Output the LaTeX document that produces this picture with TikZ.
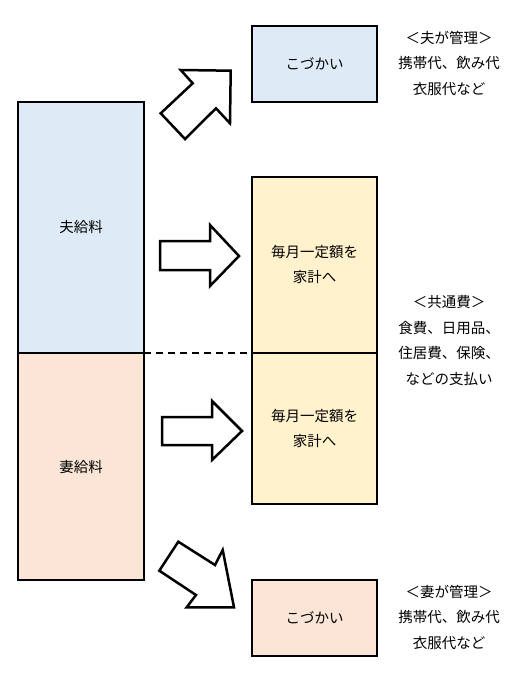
\documentclass[tikz,border=0pt]{standalone}
\usepackage{fontspec}
\setmainfont{Noto Sans CJK JP}
\usetikzlibrary{positioning}
\definecolor{husbandblue}{HTML}{DEEBF7}
\definecolor{wifepeach}{HTML}{FBE5D6}
\definecolor{commonyellow}{HTML}{FFF2CC}

\begin{document}
\begin{tikzpicture}[x=1pt, y=-1pt,
    box/.style={draw, line width=2pt, outer sep=0pt, inner sep=0pt, align=center, minimum width=125pt,
        font=\fontsize{14.5}{25}\selectfont},
    note/.style={align=center, inner sep=0pt, font=\fontsize{14.5}{25.5}\selectfont},
    blockarrow/.style={draw, line width=2.5pt, fill=white, line join=miter}]
    \useasboundingbox (0,0) rectangle (523,683);
    % Nodes
    \node[box, fill=husbandblue, minimum width=126pt, minimum height=251pt] (husband) at (81,227.5) {夫給料};
    \node[box, fill=wifepeach, minimum width=126pt, minimum height=227pt, below=0pt of husband] (wife) {妻給料};
    \node[box, fill=commonyellow, minimum height=176pt] (kakeiA) at (314.5,265) {毎月一定額を\\家計へ};
    \node[box, fill=commonyellow, minimum height=151pt, below=0pt of kakeiA] (kakeiB) {毎月一定額を\\家計へ};
    \node[box, fill=husbandblue, minimum height=76pt] (pocketA) at (314.5,64) {こづかい};
    \node[box, fill=wifepeach, minimum height=76pt] (pocketB) at (314.5,618) {こづかい};
    \node[note] (noteA) at (449,63) {＜夫が管理＞\\携帯代、飲み代\\衣服代など};
    \node[note] (noteB) at (449,340.5) {＜共通費＞\\食費、日用品、\\住居費、保険、\\などの支払い};
    \node[note] (noteC) at (449,617) {＜妻が管理＞\\携帯代、飲み代\\衣服代など};
    % Split line
    \draw[line width=2pt, dashed, dash pattern=on 7pt off 5pt] (husband.south east) -- (kakeiA.south west);
    % Block arrows
    \draw[blockarrow] (180.7,70) -- (230.7,70.7) -- (230,123.3) -- (216,108.3) -- (185,139) -- (160.7,113.3) -- (192.7,83.3) -- cycle;
    \draw[blockarrow] (160,241) -- (210,241) -- (210,225) -- (239,256) -- (210,286) -- (210,270) -- (160,270) -- cycle;
    \draw[blockarrow] (162,417) -- (212,417) -- (212,401) -- (242,431) -- (212,460) -- (212,445) -- (162,445) -- cycle;
    \draw[blockarrow] (178.3,541.7) -- (215,565) -- (222.7,550) -- (234,607.3) -- (186.7,607.3) -- (196,595) -- (159.3,570.7) -- cycle;
\end{tikzpicture}
\end{document}
